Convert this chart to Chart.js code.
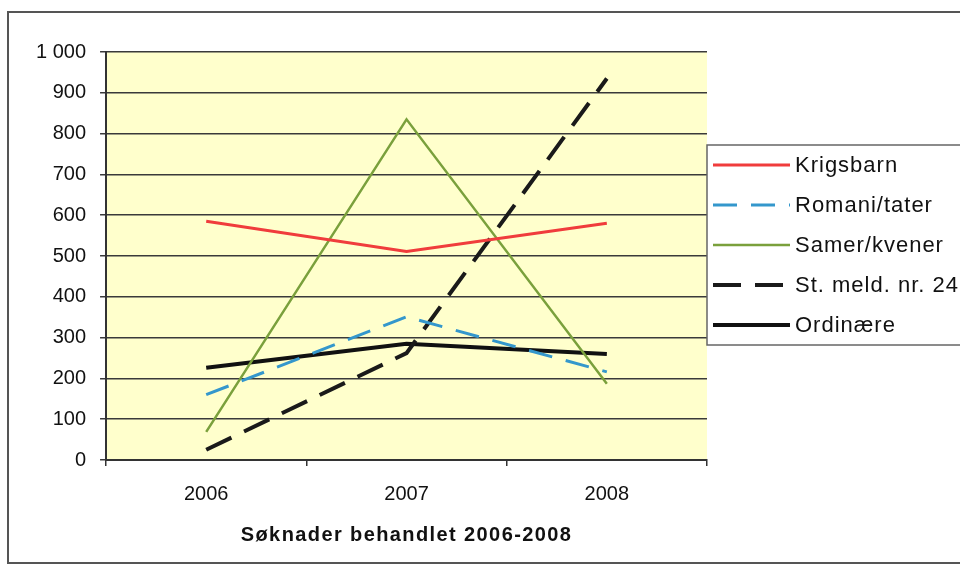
<!DOCTYPE html>
<html>
<head>
<meta charset="utf-8">
<script src="https://cdn.jsdelivr.net/npm/chart.js@4/dist/chart.umd.min.js"></script>
<style>
  html, body { margin: 0; padding: 0; background: #fff; }
  #wrap { width: 960px; height: 567px; position: relative; }
</style>
</head>
<body>
<div id="wrap"><canvas id="chart"></canvas></div>
<script>
const years = ["2006", "2007", "2008"]
const krigsbarn = [585, 511, 580]
const romani = [160, 351, 216]
const samer = [69, 835, 187]
const stMeld = [25, 262, 935]
const ordinaere = [226, 285, 260]
const yTicks = [0, 100, 200, 300, 400, 500, 600, 700, 800, 900, 1000]
const xTitle = 'Søknader behandlet 2006-2008'

const font = "'Liberation Sans', Arial, sans-serif"

// pale yellow plot area + outer frame
const background = {
  id: 'background',
  beforeDraw(chart) {
    const { ctx, chartArea: a } = chart
    ctx.save()
    ctx.fillStyle = '#fff'
    ctx.fillRect(0, 0, chart.width, chart.height)
    ctx.strokeStyle = '#555'
    ctx.lineWidth = 2
    ctx.strokeRect(8, 12, chart.width + 10, 551)
    ctx.fillStyle = '#ffffcc'
    ctx.fillRect(a.left, a.top, a.right - a.left, a.bottom - a.top)
    ctx.restore()
  }
}

// boxed legend on the right (built from the datasets) and the spaced-out axis title
const boxLegend = {
  id: 'boxLegend',
  afterDraw(chart) {
    const { ctx, chartArea: a } = chart
    const x0 = 707, y0 = 145, rowH = 40
    ctx.save()
    ctx.fillStyle = '#fff'
    ctx.fillRect(x0, y0, chart.width, 200)
    ctx.strokeStyle = '#666'
    ctx.lineWidth = 1.5
    ctx.strokeRect(x0, y0, chart.width, 200)
    ctx.font = '22px ' + font
    ctx.letterSpacing = '1px'
    ctx.textBaseline = 'middle'
    chart.data.datasets.forEach((ds, i) => {
      const y = y0 + 20 + i * rowH
      ctx.strokeStyle = ds.borderColor
      ctx.lineWidth = ds.borderWidth
      ctx.setLineDash(ds.borderDash || [])
      ctx.beginPath()
      ctx.moveTo(713, y)
      ctx.lineTo(790, y)
      ctx.stroke()
      ctx.setLineDash([])
      ctx.fillStyle = '#111'
      ctx.fillText(ds.label, 795, y + 1)
    })
    ctx.font = 'bold 20px ' + font
    ctx.letterSpacing = '1.4px'
    ctx.textAlign = 'center'
    ctx.fillText(xTitle, (a.left + a.right) / 2, 535)
    ctx.restore()
  }
}

new Chart(document.getElementById('chart'), {
  type: 'line',
  data: {
    labels: years,
    datasets: [
      { label: 'Krigsbarn', data: krigsbarn, borderColor: '#f03c3c', borderWidth: 3 },
      { label: 'Romani/tater', data: romani, borderColor: '#3497cc', borderWidth: 3, borderDash: [24, 14] },
      { label: 'Samer/kvener', data: samer, borderColor: '#7aa03c', borderWidth: 2.5 },
      { label: 'St. meld. nr. 24', data: stMeld, borderColor: '#1a1a1a', borderWidth: 4, borderDash: [28, 14] },
      { label: 'Ordinære', data: ordinaere, borderColor: '#111', borderWidth: 4 }
    ]
  },
  options: {
    responsive: true,
    maintainAspectRatio: false,
    animation: false,
    elements: { point: { radius: 0 }, line: { tension: 0 } },
    layout: { padding: { left: 22, right: 253, top: 52, bottom: 45 } },
    plugins: {
      legend: { display: false },
      tooltip: { enabled: false }
    },
    scales: {
      x: {
        offset: true,
        grid: { offset: true, drawOnChartArea: false, drawTicks: true, tickLength: 6, color: '#333', lineWidth: 1.5 },
        border: { color: '#333', width: 2 },
        ticks: { color: '#111', font: { family: font, size: 20 }, padding: 16 }
      },
      y: {
        min: 0,
        max: 1000,
        afterBuildTicks(axis) { axis.ticks = yTicks.map(v => ({ value: v })) },
        grid: { color: '#3a3a3a', lineWidth: 1.5, tickLength: 6 },
        border: { color: '#333', width: 2 },
        ticks: {
          color: '#111',
          font: { family: font, size: 20 },
          padding: 14,
          callback: v => v >= 1000 ? '1 000' : String(v)
        }
      }
    }
  },
  plugins: [background, boxLegend]
})
</script>
</body>
</html>
